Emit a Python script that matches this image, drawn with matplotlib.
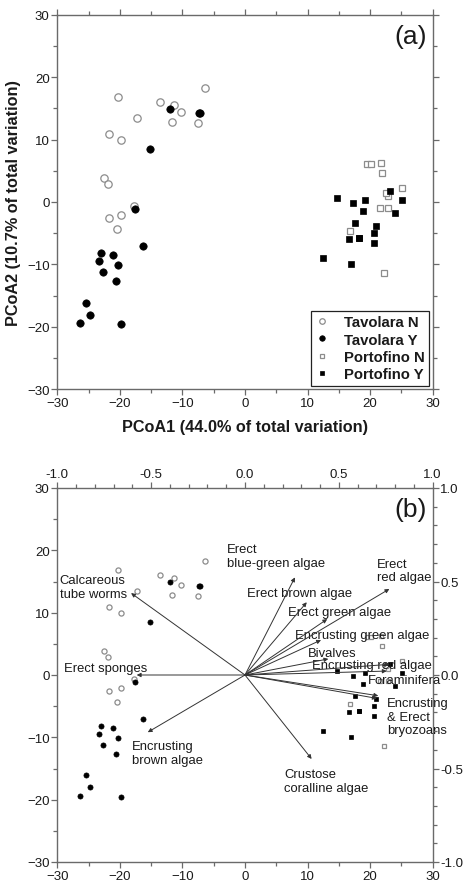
import matplotlib
matplotlib.use("Agg")
import matplotlib.pyplot as plt
from matplotlib.ticker import MultipleLocator

plt.rcParams['font.family'] = ['Liberation Sans', 'DejaVu Sans']

# PCoA scores
tav_n_x = [-20.35, -17.3, -13.57, -11.33, -10.27, -11.71, -7.55, -6.37, -21.68, -19.76,
           -22.48, -21.84, -21.79, -19.76, -20.5, -17.79]
tav_n_y = [16.88, 13.47, 15.97, 15.55, 14.48, 12.88, 12.61, 18.27, 10.85, 9.95,
           3.87, 2.96, -2.53, -2.05, -4.35, -0.67]
tav_y_x = [-11.97, -7.39, -7.12, -15.17, -17.63, -16.24, -23.01, -23.33, -21.09, -22.75,
           -20.24, -20.56, -25.42, -24.84, -26.38, -19.84]
tav_y_y = [14.96, 14.27, 14.27, 8.51, -1.09, -7.07, -8.13, -9.41, -8.45, -11.28,
           -10.16, -12.67, -16.11, -18.03, -19.46, -19.62]
por_n_x = [19.42, 20.06, 21.76, 21.87, 25.17, 22.88, 22.5, 21.6, 22.83, 16.76, 22.14]
por_n_y = [6.16, 6.16, 6.2, 4.62, 2.22, 1.04, 1.5, -1.04, -1.04, -4.66, -11.44]
por_y_x = [14.73, 17.19, 19.2, 18.78, 23.2, 25.02, 23.9, 17.6, 20.91, 20.64, 16.6,
           18.15, 18.3, 20.64, 12.49, 16.92]
por_y_y = [0.72, -0.18, 0.3, -1.52, 1.74, 0.4, -1.84, -3.33, -3.92, -4.98, -5.89,
           -5.84, -5.7, -6.64, -9.04, -10.0]

# vector loadings (correlations with PCoA axes)
taxa = ['Calcareous\ntube worms', 'Erect sponges', 'Encrusting\nbrown algae',
        'Erect\nblue-green algae', 'Erect brown algae', 'Erect green algae',
        'Encrusting green algae', 'Bivalves', 'Encrusting red algae', 'Foraminifera',
        'Encrusting\n& Erect\nbryozoans', None, 'Crustose\ncoralline algae', 'Erect\nred algae']
vec_x = [-0.607, -0.577, -0.518, 0.266, 0.329, 0.438, 0.405, 0.444, 0.769, 0.755,
         0.71, 0.702, 0.355, 0.769]
vec_y = [0.438, 0.0, -0.306, 0.522, 0.389, 0.299, 0.187, 0.086, 0.057, 0.021,
         -0.111, -0.125, -0.449, 0.46]

# where each label sits (left edge, vertical centre), in score units
label_pos = [(-29.6, 14.1), (-29.0, 1.2), (-18.1, -12.5), (-2.9, 19.1), (0.3, 13.2),
             (6.9, 10.1), (8.0, 6.4), (10.0, 3.6), (10.7, 1.65), (19.7, -0.8),
             (22.65, -6.7), None, (6.3, -17.0), (21.05, 16.8)]

spine_col = '#6a6a6a'
text_col = '#1a1a1a'
open_col = '#8c8c8c'

W, H = 467, 887
fig = plt.figure(figsize=(W / 100, H / 100), dpi=100)


def px_rect(x0, y0, x1, y1):
    return [x0 / W, 1 - y1 / H, (x1 - x0) / W, (y1 - y0) / H]


def style_axes(ax):
    for s in ax.spines.values():
        s.set_color(spine_col)
        s.set_linewidth(1.0)
    ax.set_xlim(-30, 30)
    ax.set_ylim(-30, 30)
    ax.xaxis.set_major_locator(MultipleLocator(10))
    ax.yaxis.set_major_locator(MultipleLocator(10))
    ax.xaxis.set_minor_locator(MultipleLocator(5))
    ax.yaxis.set_minor_locator(MultipleLocator(5))
    ax.tick_params(which='both', direction='out', color=spine_col, width=0.9,
                   labelsize=9.5, labelcolor=text_col, pad=1.5)
    ax.tick_params(which='major', length=4)
    ax.tick_params(which='minor', length=3)


def scatter_groups(ax, ms_c, ms_s):
    ax.plot(tav_n_x, tav_n_y, 'o', ms=ms_c, mfc='white', mec=open_col, mew=0.9,
            ls='none', label='Tavolara N')
    ax.plot(tav_y_x, tav_y_y, 'o', ms=ms_c, mfc='black', mec='black', mew=0.5,
            ls='none', label='Tavolara Y')
    ax.plot(por_n_x, por_n_y, 's', ms=ms_s, mfc='white', mec=open_col, mew=0.9,
            ls='none', label='Portofino N')
    ax.plot(por_y_x, por_y_y, 's', ms=ms_s, mfc='black', mec='black', mew=0.5,
            ls='none', label='Portofino Y')


# ---- panel (a)
ax_a = fig.add_axes(px_rect(57.3, 15.7, 432.7, 390.3))
style_axes(ax_a)
ax_a.tick_params(which='both', top=True, right=True, labeltop=False, labelright=False)
scatter_groups(ax_a, 5.3, 4.8)
ax_a.text(0.985, 0.975, '(a)', transform=ax_a.transAxes, ha='right', va='top',
          fontsize=19, color=text_col)
ax_a.set_xlabel('PCoA1 (44.0% of total variation)', fontsize=11.7, fontweight='bold',
                color=text_col, labelpad=7)
ax_a.set_ylabel('PCoA2 (10.7% of total variation)', fontsize=11.7, fontweight='bold',
                color=text_col, labelpad=4)
leg = ax_a.legend(loc='lower right', bbox_to_anchor=(0.991, 0.01), frameon=True,
                  fancybox=False, framealpha=1, edgecolor='#222222', markerscale=0.75,
                  handlelength=0.8, handletextpad=1.1, labelspacing=0.22, borderpad=0.3,
                  borderaxespad=0, prop={'weight': 'bold', 'size': 10.7})
leg.get_frame().set_linewidth(0.9)
for t in leg.get_texts():
    t.set_color(text_col)

# ---- panel (b)
rect_b = px_rect(57.3, 489, 432.7, 863)
ax_b = fig.add_axes(rect_b)
style_axes(ax_b)
scatter_groups(ax_b, 3.7, 3.5)
ax_b.text(0.985, 0.975, '(b)', transform=ax_b.transAxes, ha='right', va='top',
          fontsize=19, color=text_col)

ax_v = fig.add_axes(rect_b, facecolor='none')
ax_v.set_xlim(-1, 1)
ax_v.set_ylim(-1, 1)
for s in ax_v.spines.values():
    s.set_visible(False)
ax_v.xaxis.tick_top()
ax_v.yaxis.tick_right()
ax_v.xaxis.set_major_locator(MultipleLocator(0.5))
ax_v.yaxis.set_major_locator(MultipleLocator(0.5))
ax_v.xaxis.set_minor_locator(MultipleLocator(0.1))
ax_v.yaxis.set_minor_locator(MultipleLocator(0.1))
ax_v.xaxis.set_major_formatter(lambda v, p: f'{v:.1f}')
ax_v.yaxis.set_major_formatter(lambda v, p: f'{v:.1f}')
ax_v.tick_params(which='both', direction='out', color=spine_col, width=0.9,
                 labelsize=9.5, labelcolor=text_col, pad=1.5)
ax_v.tick_params(which='major', length=4)
ax_v.tick_params(which='minor', length=3)

for vx, vy in zip(vec_x, vec_y):
    ax_v.annotate('', xy=(vx, vy), xytext=(0, 0),
                  arrowprops=dict(arrowstyle='-|>', color='#333333', lw=0.7,
                                  mutation_scale=6, shrinkA=0, shrinkB=0))

for name, pos in zip(taxa, label_pos):
    if name is None:
        continue
    ax_b.text(pos[0], pos[1], name, ha='left', va='center', fontsize=9.4,
              color=text_col, linespacing=1.15)

fig.savefig('out.png', dpi=100)
